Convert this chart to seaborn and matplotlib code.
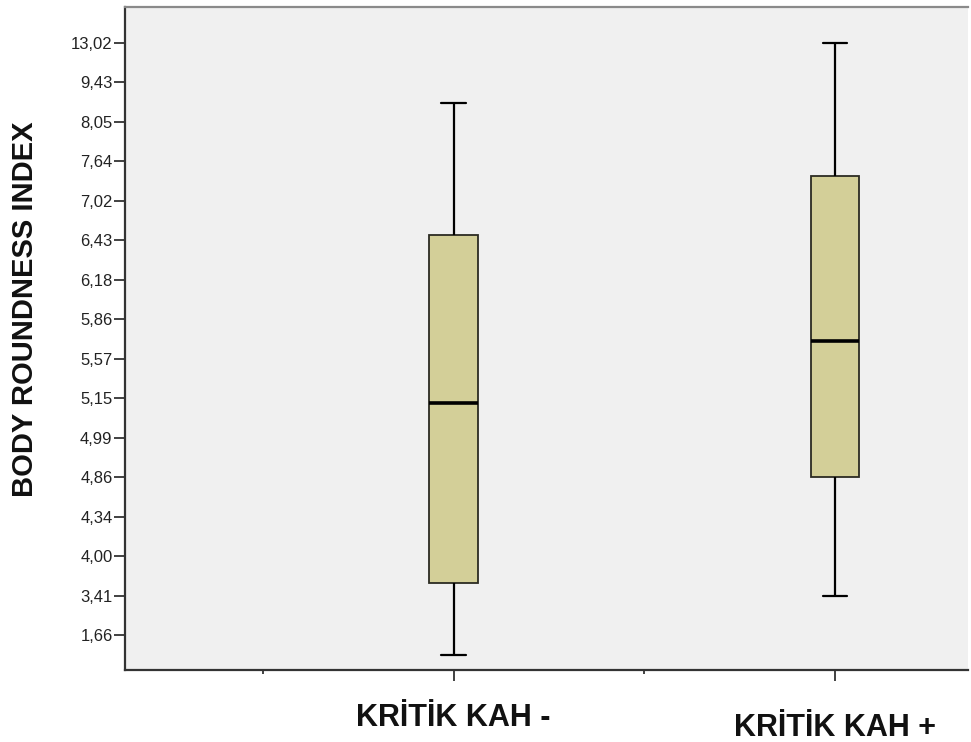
import numpy as np
import pandas as pd
import seaborn as sns
import matplotlib.pyplot as plt
from matplotlib.transforms import ScaledTranslation
from matplotlib.ticker import FixedLocator

# y axis of the original is ordinal: tick values sit at equal spacing
tick_vals = [1.66, 3.41, 4.00, 4.34, 4.86, 4.99, 5.15, 5.57, 5.86,
             6.18, 6.43, 7.02, 7.64, 8.05, 9.43, 13.02]
tick_labels = ["{:.2f}".format(v).replace(".", ",") for v in tick_vals]

groups = ["KRİTİK KAH -", "KRİTİK KAH +"]
# five-number summaries (min, q1, median, q3, max)
kah_neg = [0.79, 3.60, 5.13, 6.50, 8.70]
kah_pos = [3.41, 4.86, 5.70, 7.41, 13.02]

df = pd.DataFrame({
    "group": [groups[0]] * len(kah_neg) + [groups[1]] * len(kah_pos),
    "bri": kah_neg + kah_pos,
})

# equal-spacing scale through the tick values, extended linearly at both ends
anchor_vals = np.array([tick_vals[0] - (tick_vals[1] - tick_vals[0])] + tick_vals
                       + [tick_vals[-1] + (tick_vals[-1] - tick_vals[-2])])
anchor_pos = np.arange(-1, len(tick_vals) + 1, dtype=float)


def fwd(v):
    return np.interp(v, anchor_vals, anchor_pos)


def inv(p):
    return np.interp(p, anchor_pos, anchor_vals)


sns.set_style("white")
plt.rcParams["font.family"] = ["Liberation Sans", "DejaVu Sans"]

fig = plt.figure(figsize=(9.71, 7.42), dpi=100)
ax = fig.add_axes([125 / 971, 72 / 742, 843 / 971, 663 / 742])
ax.set_facecolor("#F0F0F0")

sns.boxplot(data=df, x="group", y="bri", order=groups, ax=ax, width=0.128,
            whis=(0, 100), color="#D3CF98", saturation=1, showfliers=False,
            linecolor="#2b2b22", linewidth=1.3,
            medianprops=dict(color="black", linewidth=2.6),
            whiskerprops=dict(color="black", linewidth=1.6),
            capprops=dict(color="black", linewidth=1.6))

ax.set_yscale("function", functions=(fwd, inv))
ax.set_ylim(inv(-0.886), inv(15.9))
ax.set_yticks(tick_vals)
ax.set_yticklabels(tick_labels)
ax.yaxis.set_minor_locator(FixedLocator([]))
ax.set_xlim(-0.862, 1.349)

ax.tick_params(axis="y", left=True, length=8, width=1.3, color="#333333",
               labelsize=12, labelcolor="#222222", pad=1)
ax.tick_params(axis="x", bottom=True, length=8, width=1.3, color="#333333",
               labelsize=22, pad=16)
ax.set_xticks([-0.5, 0.5], minor=True)
ax.tick_params(axis="x", which="minor", bottom=True, length=3, width=1.3,
               color="#333333")
for lbl in ax.get_xticklabels():
    lbl.set_fontweight("bold")
    lbl.set_color("#111111")
offs = [0, -7 / 72]
for lbl, dy in zip(ax.get_xticklabels(), offs):
    lbl.set_transform(lbl.get_transform() + ScaledTranslation(0, dy, fig.dpi_scale_trans))

ax.set_xlabel("")
ax.set_ylabel("BODY ROUNDNESS INDEX", fontsize=21, fontweight="bold", color="#111111")
ax.yaxis.set_label_coords(-0.102, 0.544)

for side in ["left", "bottom"]:
    ax.spines[side].set_color("#333333")
    ax.spines[side].set_linewidth(1.6)
ax.spines["top"].set_color("#8a8a8a")
ax.spines["top"].set_linewidth(1.6)
ax.spines["right"].set_visible(False)

plt.savefig("out.png", dpi=100)
